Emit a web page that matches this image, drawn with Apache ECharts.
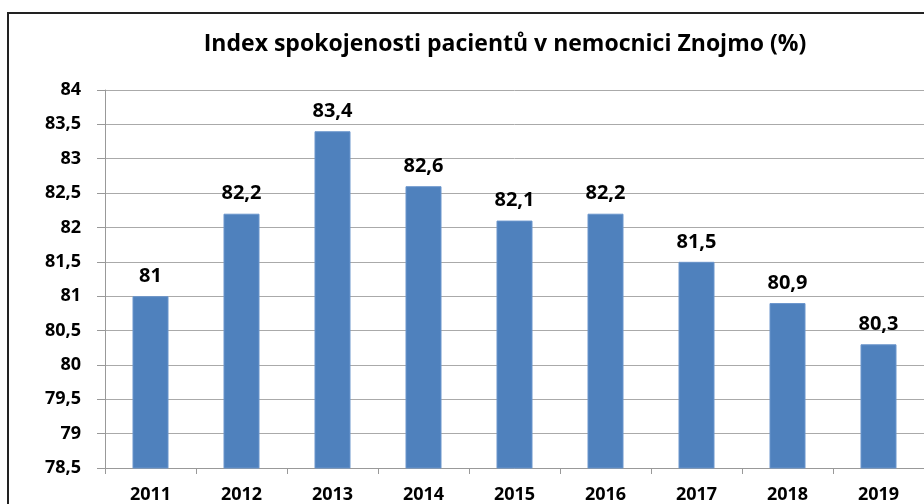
<!DOCTYPE html>
<html>
<head>
<meta charset="utf-8">
<script src="https://cdn.jsdelivr.net/npm/echarts@6/dist/echarts.min.js"></script>
<style>
html,body{margin:0;padding:0;background:#fff;}
#chart{width:924px;height:504px;}
</style>
</head>
<body>
<div id="chart"></div>
<script>
var titleText = 'Index spokojenosti pacientů v nemocnici Znojmo (%)';
var years = ['2011','2012','2013','2014','2015','2016','2017','2018','2019'];
var satisfaction = [81, 82.2, 83.4, 82.6, 82.1, 82.2, 81.5, 80.9, 80.3];

var chart = echarts.init(document.getElementById('chart'), null, {renderer:'canvas'});
var fam = '"Open Sans", "DejaVu Sans", sans-serif';
function fmt(v){ return String(v).replace('.', ','); }
chart.setOption({
  animation:false,
  backgroundColor:'#fff',
  title:{
    text:titleText,
    left:500, top:28, textAlign:'center',
    textStyle:{fontFamily:fam, fontWeight:'bold', fontSize:23, color:'#000'}
  },
  graphic:[{
    type:'rect', shape:{x:8, y:13, width:940, height:520},
    style:{fill:'none', stroke:'#222', lineWidth:2}, z:100
  }],
  grid:{left:105, right:-10, top:90, bottom:36, containLabel:false},
  xAxis:{
    type:'category', data:years,
    axisLine:{lineStyle:{color:'#999', width:1}},
    axisTick:{show:true, length:6, lineStyle:{color:'#999'}},
    axisLabel:{fontFamily:fam, fontWeight:'bold', fontSize:18, color:'#000', margin:18}
  },
  yAxis:{
    type:'value', min:78.5, max:84, interval:0.5,
    axisLine:{show:true, lineStyle:{color:'#999'}},
    axisTick:{show:true, length:8, lineStyle:{color:'#999'}},
    splitLine:{lineStyle:{color:'#aaa', width:1}},
    axisLabel:{fontFamily:fam, fontWeight:'bold', fontSize:18, color:'#000', margin:24, formatter:function(v){return fmt(Math.round(v*10)/10);}}
  },
  series:[{
    type:'bar', data:satisfaction, barWidth:36,
    itemStyle:{color:'#4F81BD', borderColor:'#6A95CC', borderWidth:1},
    label:{show:true, position:'top', distance:10, fontFamily:fam, fontWeight:'bold', fontSize:20, color:'#000', formatter:function(p){return fmt(p.value);}}
  }]
});
</script>
</body>
</html>
